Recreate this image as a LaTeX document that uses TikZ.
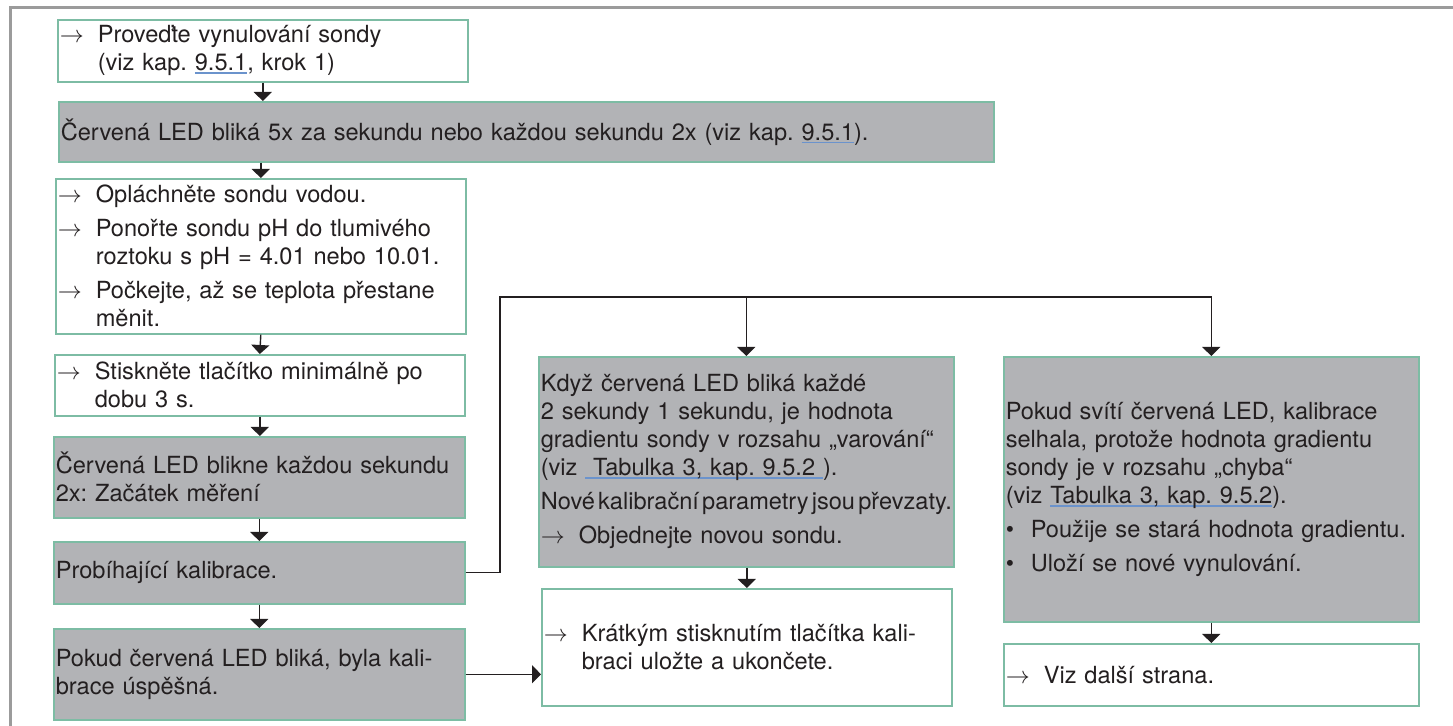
\documentclass[tikz,border=0pt]{standalone}
\usepackage{fontspec}
\setmainfont{TeX Gyre Heros}
\usepackage{xcolor}
\usepackage{tikz}
\usetikzlibrary{arrows.meta}

\definecolor{boxgrey}{HTML}{B2B3B6}
\definecolor{boxline}{HTML}{7DBCA4}
\definecolor{framegrey}{HTML}{9B9B9B}
\definecolor{linkblue}{HTML}{6B93CC}
\definecolor{ink}{HTML}{231F20}

\newsavebox\lnkbox
\newcommand\lnk[1]{\sbox\lnkbox{#1}\rlap{\textcolor{linkblue}{\rule[-1.7pt]{\wd\lnkbox}{0.9pt}}}\usebox\lnkbox}
\newcommand\arr{\makebox[19pt][l]{$\rightarrow$}}
\newcommand\ind{\hspace*{19pt}}
\newcommand\bul{\makebox[12.5pt][l]{\textbullet}}
\frenchspacing

\begin{document}
\begin{tikzpicture}[x=0.5pt,y=-0.5pt,
        whitebox/.style={
                draw=boxline,
                line width=0.8pt,
                fill=white,
                anchor=north west,
                inner xsep=1pt,
                inner ysep=0pt,
                align=left,
                text=ink,
                font=\fontsize{11.8}{14}\selectfont,
        },
        greybox/.style={whitebox, fill=boxgrey},
        flow/.style={-{Triangle[width=9pt,length=4.5pt]}, line width=0.7pt, draw=ink}]
            \useasboundingbox (0,0) rectangle (1453,726);
            \draw[framegrey, line width=1.5pt] (10,726) -- (10,8) -- (1453,8);

            \node[whitebox, text width=203pt, minimum width=205pt, minimum height=31pt] (zero) at (57,19)
                {\arr Proveďte vynulování sondy\\\ind(viz kap. \lnk{9.5.1}, krok 1)};
            \node[greybox, text width=465.5pt, minimum width=467.5pt, minimum height=30pt] (blink) at (58,101)
                {Červená LED bliká 5x za sekundu nebo každou sekundu 2x (viz kap. \lnk{9.5.1}).};
            \node[whitebox, text width=203pt, minimum width=205pt, minimum height=77.5pt] (prep) at (55,178)
                {\arr Opláchněte sondu vodou.\\[3pt]\arr Ponořte sondu pH do tlumivého\\\ind roztoku s pH = 4.01 nebo 10.01.\\[3pt]\arr Počkejte, až se teplota přestane\\\ind měnit.};
            \node[whitebox, text width=203pt, minimum width=205pt, minimum height=30.5pt] (press) at (54,354)
                {\arr Stiskněte tlačítko minimálně po\\\ind dobu 3 s.};
            \node[greybox, text width=203.5pt, minimum width=205.5pt, minimum height=40.5pt] (start) at (53,436)
                {\makebox[\linewidth][s]{Červená LED blikne každou sekundu}\\2x: Začátek měření};
            \node[greybox, text width=203.5pt, minimum width=205.5pt, minimum height=31pt] (calib) at (53,541)
                {Probíhající kalibrace.};
            \node[greybox, text width=203.5pt, minimum width=205.5pt, minimum height=45.5pt] (ok) at (53,628)
                {Pokud červená LED bliká, byla kali-\\brace úspěšná.};

            \node[greybox, text width=205.5pt, minimum width=207.5pt, minimum height=105pt] (warn) at (538,356)
                {Když červená LED bliká každé\\2 sekundy 1 sekundu, je hodnota\\gradientu sondy v rozsahu „varování“\\(viz \lnk{\ Tabulka 3, kap. 9.5.2\ }).\\[3pt]\makebox[\linewidth][s]{\spaceskip=0.1em plus 1em\relax Nové kalibrační parametry jsou převzaty.}\\[3pt]\arr Objednejte novou sondu.};
            \node[greybox, text width=205.5pt, minimum width=207.5pt, minimum height=132.5pt] (fail) at (1003,356)
                {Pokud svítí červená LED, kalibrace\\selhala, protože hodnota gradientu\\sondy je v rozsahu „chyba“\\(viz \lnk{Tabulka 3, kap. 9.5.2}).\\[3pt]\bul Použije se stará hodnota gradientu.\\[3pt]\bul Uloží se nové vynulování.};
            \node[whitebox, text width=203pt, minimum width=205pt, minimum height=58.5pt] (save) at (541,588)
                {\arr Krátkým stisknutím tlačítka kali-\\\ind braci uložte a ukončete.};
            \node[whitebox, text width=205.5pt, minimum width=207.5pt, minimum height=31pt] (next) at (1003,643)
                {\arr Viz další strana.};

            \coordinate (split) at (500,297);
            \draw[flow] (zero.south) -- (zero.south |- blink.north);
            \draw[flow] (prep.north |- blink.south) -- (prep.north);
            \draw[flow] (prep.south) -- (press.north);
            \draw[flow] (press.south) -- (press.south |- start.north);
            \draw[flow] (start.south) -- (calib.north);
            \draw[flow] (calib.south) -- (ok.north);
            \draw[flow] (calib.east) -| (split) -| (fail.north);
            \draw[flow] (warn.north |- split) -- (warn.north);
            \draw[flow] (save.north |- warn.south) -- (save.north);
            \draw[flow] (fail.south) -- (next.north);
            \draw[flow] (ok.east) -- (ok.east -| save.west);
        \end{tikzpicture}
\end{document}
